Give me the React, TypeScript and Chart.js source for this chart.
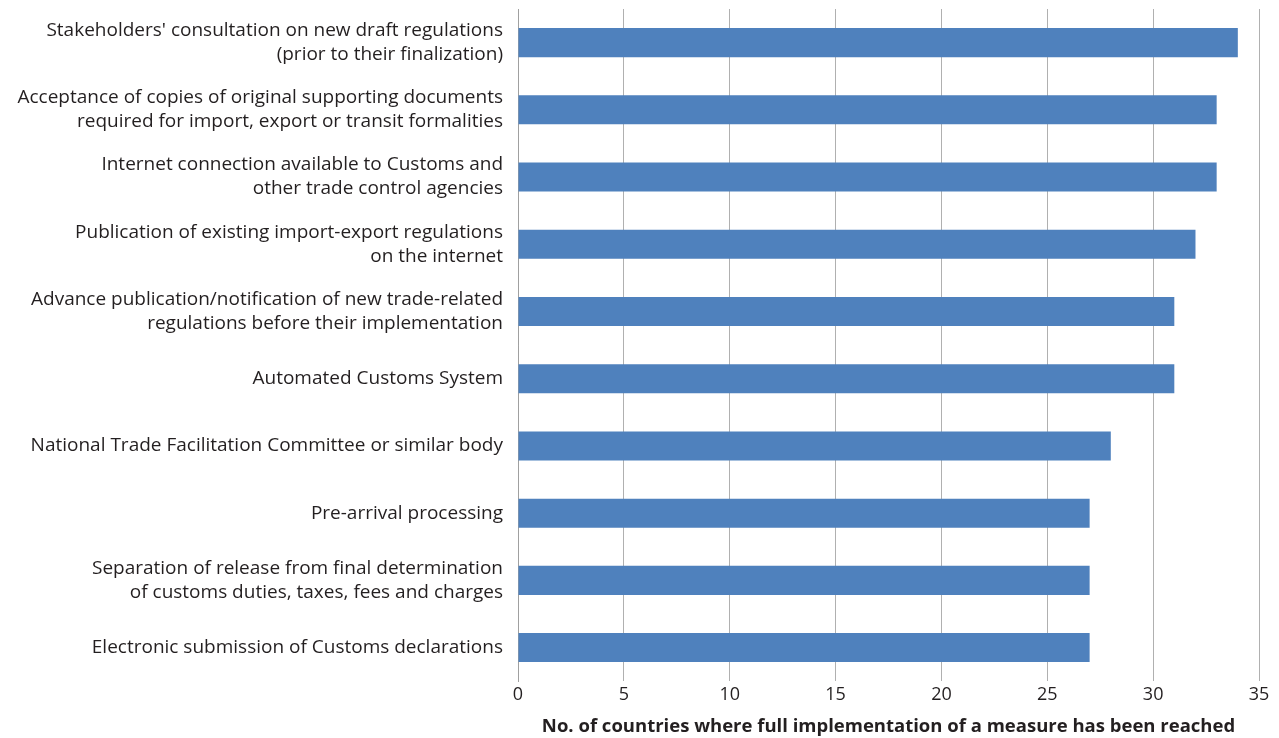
import React, { useEffect, useRef } from "react";
import { Chart, registerables } from "chart.js";

Chart.register(...registerables);

const categories: string[][] = [
  ["Stakeholders' consultation on new draft regulations", "(prior to their finalization)"],
  ["Acceptance of copies of original supporting documents", "required for import, export or transit formalities"],
  ["Internet connection available to Customs and", "other trade control agencies"],
  ["Publication of existing import-export regulations", "on the internet"],
  ["Advance publication/notification of new trade-related", "regulations before their implementation"],
  ["Automated Customs System"],
  ["National Trade Facilitation Committee or similar body"],
  ["Pre-arrival processing"],
  ["Separation of release from final determination", "of customs duties, taxes, fees and charges"],
  ["Electronic submission of Customs declarations"],
];

const values: number[] = [34, 33, 33, 32, 31, 31, 28, 27, 27, 27];

const xTicks: number[] = [0, 5, 10, 15, 20, 25, 30, 35];

const xTitle = "No. of countries where full implementation of a measure has been reached";

const FONT = "'Open Sans', 'Noto Sans', sans-serif";

export default function App() {
  const canvasRef = useRef<HTMLCanvasElement | null>(null);

  useEffect(() => {
    document.body.style.margin = "0";
    const canvas = canvasRef.current;
    if (!canvas) return;
    const chart = new Chart(canvas, {
      type: "bar",
      data: {
        labels: categories,
        datasets: [
          {
            data: values,
            backgroundColor: "#4f81bd",
            borderWidth: 0,
            categoryPercentage: 1,
            barPercentage: 0.432,
          },
        ],
      },
      options: {
        indexAxis: "y",
        animation: false,
        responsive: false,
        maintainAspectRatio: false,
        layout: { padding: { top: 9, right: 20, bottom: 0, left: 0 } },
        plugins: {
          legend: { display: false },
          tooltip: { enabled: false },
        },
        scales: {
          x: {
            min: 0,
            max: 35,
            afterBuildTicks: (scale: any) => {
              scale.ticks = xTicks.map((v) => ({ value: v }));
            },
            grid: {
              color: "#b0b0b0",
              lineWidth: 1,
              drawTicks: false,
            },
            border: { display: false },
            ticks: {
              color: "#231f20",
              font: { family: FONT, size: 18 },
              padding: 3,
            },
            title: {
              display: true,
              text: xTitle,
              color: "#231f20",
              font: { family: FONT, size: 18.5, weight: "bold" },
              padding: { top: 7, bottom: 0 },
            },
          },
          y: {
            afterFit: (scale: any) => {
              scale.width = 518;
              scale.paddingTop = 0;
              scale.paddingBottom = 0;
            },
            grid: { display: false, drawTicks: false },
            border: { display: true, color: "#a0a0a0", width: 1 },
            ticks: {
              color: "#231f20",
              font: { family: FONT, size: 19, lineHeight: 1.26 },
              padding: 15,
              autoSkip: false,
            },
          },
        },
      },
    });
    return () => chart.destroy();
  }, []);

  return (
    <div style={{ width: 1279, height: 738 }}>
      <canvas ref={canvasRef} width={1279} height={738} style={{ display: "block" }} />
    </div>
  );
}
